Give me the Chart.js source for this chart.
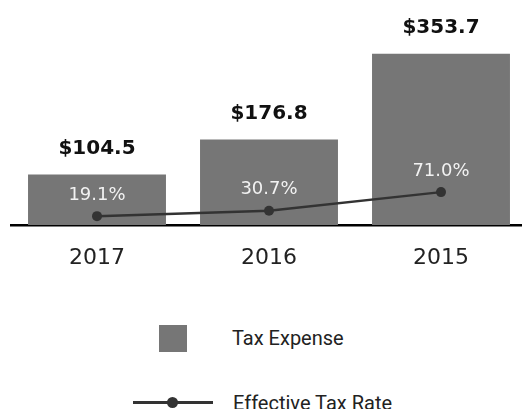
<!DOCTYPE html>
<html>
<head>
<meta charset="utf-8">
<script src="https://cdn.jsdelivr.net/npm/chart.js@4/dist/chart.umd.min.js"></script>
<style>
  html, body { margin: 0; padding: 0; background: #fff; overflow: hidden; }
  #wrap { position: relative; width: 522px; height: 409px; overflow: hidden; }
  #taxChart { position: absolute; left: 0; top: 0; }
  .lg-text { position: absolute; font-family: Roboto, "Liberation Sans", sans-serif; font-size: 20px; color: #222; line-height: 24px; white-space: nowrap; }
  .lg-box { position: absolute; background: #767676; }
  .lg-line { position: absolute; background: #333; }
  .lg-dot { position: absolute; background: #333; border-radius: 50%; }
</style>
</head>
<body>
<div id="wrap">
  <canvas id="taxChart" width="527" height="300"></canvas>
  <div class="lg-box" style="left:159px; top:325px; width:28px; height:27px;"></div>
  <div class="lg-text" id="lgBar" style="left:232px; top:326px;"></div>
  <div class="lg-line" style="left:133px; top:401px; width:80px; height:3px;"></div>
  <div class="lg-dot" style="left:167px; top:397px; width:11px; height:11px;"></div>
  <div class="lg-text" id="lgLine" style="left:233px; top:391px;"></div>
</div>
<script>
// data
const years = ['2017', '2016', '2015'];
const taxExpense = [104.5, 176.8, 353.7];
const effectiveRate = [19.1, 30.7, 71.0];
const seriesNames = ['Tax Expense', 'Effective Tax Rate'];

document.getElementById('lgBar').textContent = seriesNames[0];
document.getElementById('lgLine').textContent = seriesNames[1];

// draws the $ labels over bars and % labels over the points
const valueLabels = {
    id: 'valueLabels',
    afterDatasetsDraw(chart) {
        const ctx = chart.ctx;
        ctx.save();
        ctx.textAlign = 'center';
        ctx.textBaseline = 'middle';

        const barMeta = chart.getDatasetMeta(1);
        ctx.font = 'bold 20px "DejaVu Sans", sans-serif';
        ctx.fillStyle = '#111';
        barMeta.data.forEach(function (bar, i) {
            ctx.fillText('$' + taxExpense[i].toFixed(1), bar.x, bar.y - 26);
        });

        const lineMeta = chart.getDatasetMeta(0);
        ctx.font = '18px "DejaVu Sans", sans-serif';
        ctx.fillStyle = '#f2f2f2';
        lineMeta.data.forEach(function (pt, i) {
            ctx.fillText(effectiveRate[i].toFixed(1) + '%', pt.x, pt.y - 21);
        });
        ctx.restore();
    }
};

const ctx = document.getElementById('taxChart').getContext('2d');
new Chart(ctx, {
    data: {
        labels: years,
        datasets: [{
            type: 'line',
            label: seriesNames[1],
            data: effectiveRate,
            yAxisID: 'y1',
            order: 0,
            borderColor: '#333',
            backgroundColor: '#333',
            borderWidth: 2.5,
            pointRadius: 5,
            pointBackgroundColor: '#333',
            pointBorderWidth: 0,
            tension: 0
        }, {
            type: 'bar',
            label: seriesNames[0],
            data: taxExpense,
            yAxisID: 'y',
            order: 1,
            backgroundColor: '#767676',
            borderWidth: 0,
            categoryPercentage: 1,
            barPercentage: 0.802
        }]
    },
    options: {
        responsive: false,
        animation: false,
        layout: { autoPadding: false, padding: { left: 11, top: 12, right: 0, bottom: 0 } },
        plugins: {
            legend: { display: false },
            tooltip: { enabled: false }
        },
        scales: {
            x: {
                z: 1,
                grid: { display: false, drawTicks: false },
                border: { display: true, color: '#000', width: 2.5 },
                ticks: {
                    padding: 20,
                    color: '#222',
                    font: { family: '"DejaVu Sans", sans-serif', size: 22 }
                },
                afterFit: function (scale) { scale.height = 75; }
            },
            y: {
                display: false,
                min: 0,
                max: 440
            },
            y1: {
                display: false,
                min: 0,
                max: 460
            }
        }
    },
    plugins: [valueLabels]
});
</script>
</body>
</html>
